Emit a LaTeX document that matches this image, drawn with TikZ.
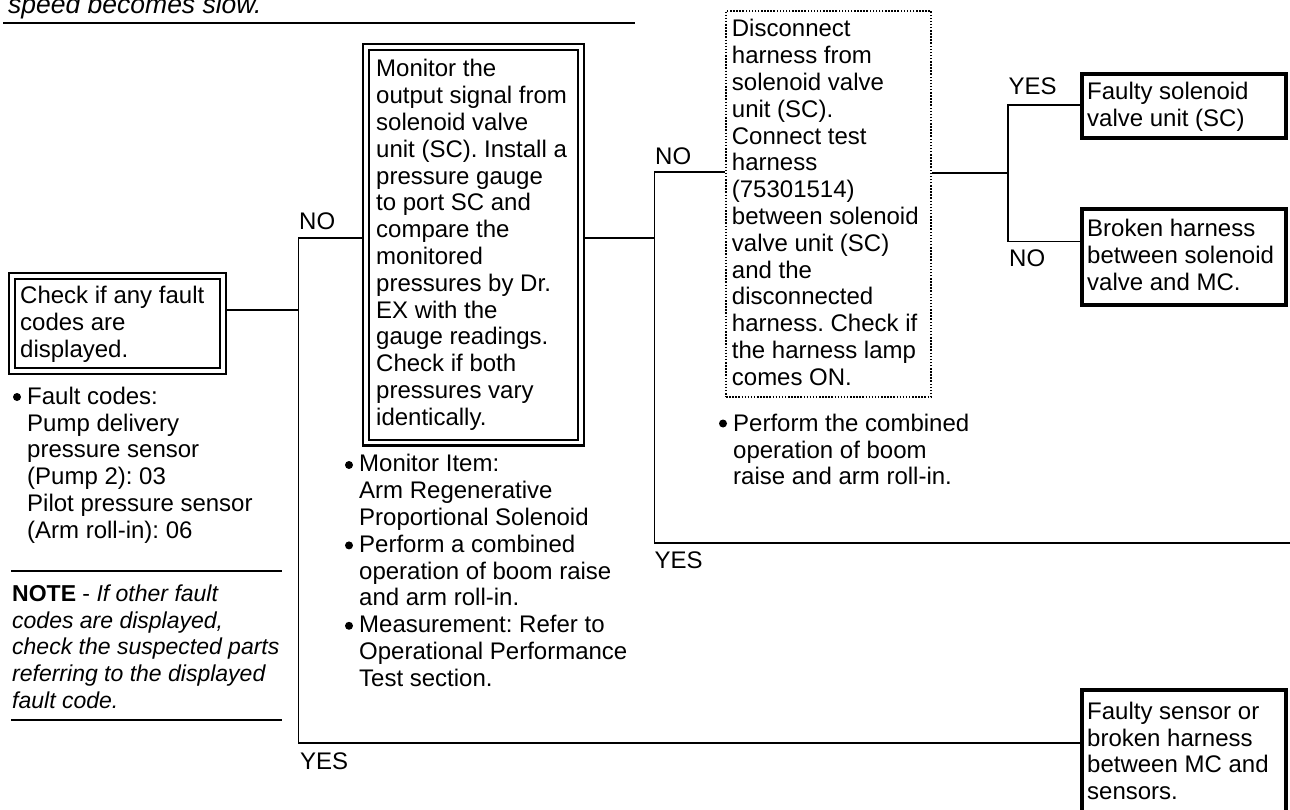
\documentclass[tikz,border=0pt]{standalone}
\usepackage{fontspec}
\setmainfont{Liberation Sans}
\usetikzlibrary{backgrounds}
% zero-width strut fixing the height of a first text line
\newcommand\firstln{\rule{0pt}{19pt}}
\frenchspacing
\begin{document}
\begin{tikzpicture}[x=1pt,y=-1pt,
  txt/.style={anchor=north west, inner sep=0pt, align=left, font=\fontsize{24}{26.8}\selectfont},
  lbl/.style={anchor=base west, inner sep=0pt, font=\fontsize{24}{26.8}\selectfont},
  dbox/.style={draw, double=white, double distance=3.5pt, line width=2.3pt, fill=white, inner sep=0pt},
  dotbox/.style={draw, fill=white, line width=2.6pt, dash pattern=on 1.5pt off 1.6pt, inner sep=0pt},
  endbox/.style={draw, fill=white, line width=4pt, inner sep=0pt},
  link/.style={line width=1.8pt},
  rulel/.style={line width=2.4pt}]

\useasboundingbox (0,0) rectangle (1290,810);
\clip (0,0) rectangle (1290,810);

% heading remnant and rule
\node[lbl, font=\fontsize{26.5}{30}\selectfont\itshape] (title) at (8,13.3) {speed becomes slow.};
\draw[rulel] (3,23.3) -- (635,23.3);

% check boxes
\node[dbox, minimum width=210.8pt, minimum height=95pt] (A) at (117.5,323.5) {};
\node[txt] (Atext) at (20,284.3) {\firstln Check if any fault\\codes are\\displayed.};

\node[dbox, minimum width=214.8pt, minimum height=395.8pt] (B) at (473.5,244.7) {};
\node[txt] (Btext) at (376,57.7) {\firstln Monitor the\\output signal from\\solenoid valve\\unit (SC). Install a\\pressure gauge\\to port SC and\\compare the\\monitored\\pressures by Dr.\\EX with the\\gauge readings.\\Check if both\\pressures vary\\identically.};

\node[dotbox, minimum width=205pt, minimum height=386pt] (C) at (828.5,204) {};
\node[txt] (Ctext) at (731.7,17.7) {\firstln Disconnect\\harness from\\solenoid valve\\unit (SC).\\Connect test\\harness\\(75301514)\\between solenoid\\valve unit (SC)\\and the\\disconnected\\harness. Check if\\the harness lamp\\comes ON.};

% result boxes
\node[endbox, minimum width=203.5pt, minimum height=64.3pt] (D) at (1183.75,105.85) {};
\node[txt] (Dtext) at (1087,80.3) {\firstln Faulty solenoid\\valve unit (SC)};

\node[endbox, minimum width=203.5pt, minimum height=96pt] (E) at (1183.75,256.7) {};
\node[txt] (Etext) at (1087,217.7) {\firstln Broken harness\\between solenoid\\valve and MC.};

\node[endbox, minimum width=203.5pt, minimum height=150.3pt] (F) at (1183.75,764.85) {};
\node[txt] (Ftext) at (1087,700) {\firstln Faulty sensor or\\broken harness\\between MC and\\sensors.};

% junction points
\coordinate (j1) at (298.5,310);
\coordinate (j1n) at (298.5,238);
\coordinate (j1y) at (298.5,743);
\coordinate (j2) at (654.5,238);
\coordinate (j2n) at (654.5,172);
\coordinate (j2y) at (654.5,542.7);
\coordinate (yesend) at (1290,542.7);
\coordinate (j3) at (1008.3,173);
\coordinate (j3y) at (1008.3,105);
\coordinate (j3n) at (1008.3,241.5);

\begin{scope}[on background layer]
  \draw[link] (A.east |- j1) -- (j1);
  \draw[link] (B.west |- j1n) -- (j1n) -- (j1y) -- (F.west |- j1y);
  \draw[link] (B.east |- j2) -- (j2);
  \draw[link] (C.west |- j2n) -- (j2n) -- (j2y) -- (yesend);
  \draw[link] (C.east |- j3) -- (j3);
  \draw[link] (D.west |- j3y) -- (j3y) -- (j3n) -- (E.west |- j3n);
\end{scope}

% branch labels
\node[lbl] (no1) at (299,230) {NO};
\node[lbl] (yes1) at (300,769.3) {YES};
\node[lbl] (no2) at (655,165) {NO};
\node[lbl] (yes2) at (654.5,568) {YES};
\node[lbl] (yes3) at (1008.5,95) {YES};
\node[lbl] (no3) at (1009,266.7) {NO};

% notes
\fill (17,397) circle[radius=4pt];
\node[txt] (Anote) at (27,385) {\firstln Fault codes:\\Pump delivery\\pressure sensor\\(Pump 2): 03\\Pilot pressure sensor\\(Arm roll-in): 06};

\draw[rulel] (11,570.7) -- (282,570.7);
\node[txt, font=\fontsize{23}{26.8}\selectfont] (note) at (12,582) {\firstln\textbf{NOTE} - \textit{If other fault}\\\textit{codes are displayed,}\\\textit{check the suspected parts}\\\textit{referring to the displayed}\\\textit{fault code.}};
\draw[rulel] (11,720) -- (282,720);

\fill (349,465) circle[radius=4pt];
\fill (349,545.4) circle[radius=4pt];
\fill (349,625.8) circle[radius=4pt];
\node[txt] (Bnote) at (359,452.7) {\firstln Monitor Item:\\Arm Regenerative\\Proportional Solenoid\\Perform a combined\\operation of boom raise\\and arm roll-in.\\Measurement: Refer to\\Operational Performance\\Test section.};

\fill (723,423.5) circle[radius=4pt];
\node[txt] (Cnote) at (733,412) {\firstln Perform the combined\\operation of boom\\raise and arm roll-in.};

\end{tikzpicture}
\end{document}
